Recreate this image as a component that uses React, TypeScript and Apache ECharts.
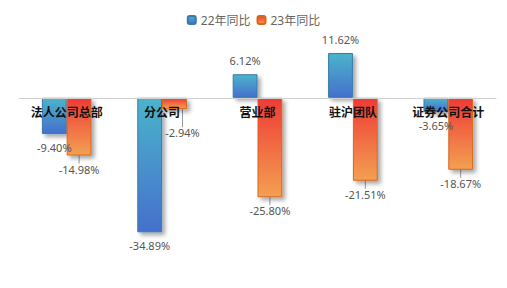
import React, { useEffect, useRef } from "react";
import * as echarts from "echarts";

const categories = ["法人公司总部", "分公司", "营业部", "驻沪团队", "证券公司合计"];
const seriesNames = ["22年同比", "23年同比"];
const values22 = [-9.4, -34.89, 6.12, 11.62, -3.65];
const values23 = [-14.98, -2.94, -25.8, -21.51, -18.67];

const yMin = -40;
const yMax = 15;

const blueGrad = () =>
  new echarts.graphic.LinearGradient(0, 0, 0, 1, [
    { offset: 0, color: "#4bb4cb" },
    { offset: 1, color: "#4470cc" },
  ]);
const orangeGrad = () =>
  new echarts.graphic.LinearGradient(0, 0, 0, 1, [
    { offset: 0, color: "#ef3a36" },
    { offset: 1, color: "#f3a052" },
  ]);

export default function App() {
  const ref = useRef<HTMLDivElement>(null);
  useEffect(() => {
    if (!ref.current) return;
    const chart = echarts.init(ref.current, undefined, { renderer: "svg" });
    const font = "'Noto Sans', 'Noto Sans CJK SC', sans-serif";
    const gridTop = 40;
    const gridH = 212;
    // offset of the zero line from the grid bottom
    const zeroOffset = (gridH * (0 - yMin)) / (yMax - yMin);
    const label = {
      show: true,
      distance: 8,
      color: "#555",
      fontSize: 11,
      fontFamily: font,
      formatter: (p: any) => p.value.toFixed(2) + "%",
    };
    const mk = (vals: number[]) =>
      vals.map((v) => ({ value: v, label: { position: v >= 0 ? "top" : "bottom" } }));
    chart.setOption({
      animation: false,
      textStyle: { fontFamily: font },
      legend: {
        top: 9,
        left: "center",
        itemWidth: 8,
        itemHeight: 8,
        itemGap: 6,
        textStyle: { color: "#666", fontSize: 12, fontFamily: font },
        data: seriesNames,
      },
      grid: { left: 19, right: 11, top: gridTop, height: gridH },
      xAxis: {
        type: "category",
        data: categories,
        z: 10,
        position: "bottom",
        offset: -zeroOffset,
        axisLine: { onZero: false, lineStyle: { color: "#d0d0d0", width: 1 } },
        axisTick: { show: false },
        axisLabel: {
          interval: 0,
          color: "#111",
          fontWeight: "bold",
          fontSize: 12,
          margin: 8,
          fontFamily: "'Noto Sans CJK SC', sans-serif",
        },
      },
      yAxis: {
        type: "value",
        min: yMin,
        max: yMax,
        show: false,
        splitLine: { show: false },
      },
      series: [
        {
          name: seriesNames[0],
          type: "bar",
          data: mk(values22),
          barGap: "0%",
          barCategoryGap: "48%",
          label,
          itemStyle: {
            color: blueGrad(),
            borderColor: "#3b7aa8",
            borderWidth: 1,
            shadowColor: "rgba(0,0,0,0.35)",
            shadowBlur: 4,
            shadowOffsetX: 3,
            shadowOffsetY: 3,
          },
        },
        {
          name: seriesNames[1],
          type: "bar",
          data: mk(values23),
          label,
          labelLine: { show: true, lineStyle: { color: "#999", width: 1 } },
          labelLayout: (p: any) => (p.dataIndex === 1 ? { dx: 8, dy: 10 } : {}),
          itemStyle: {
            color: orangeGrad(),
            borderColor: "#d8661c",
            borderWidth: 1,
            shadowColor: "rgba(0,0,0,0.35)",
            shadowBlur: 4,
            shadowOffsetX: 3,
            shadowOffsetY: 3,
          },
        },
      ],
    });
    return () => chart.dispose();
  }, []);
  return (
    <div
      ref={ref}
      style={{ position: "absolute", left: 0, top: 0, width: 507, height: 288 }}
    />
  );
}
